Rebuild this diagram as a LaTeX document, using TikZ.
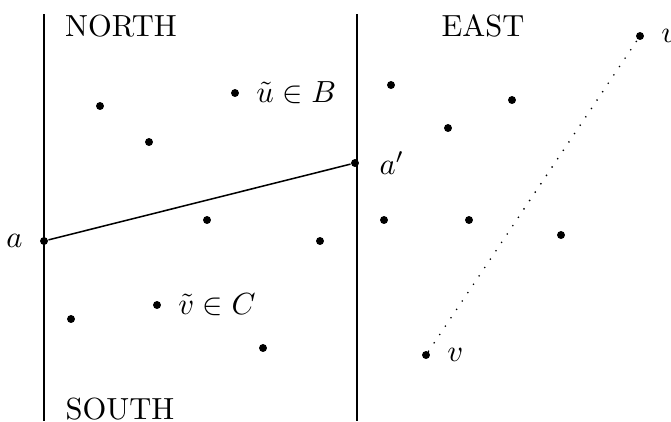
\documentclass[tikz,border=0pt]{standalone}
\usepackage{amsmath,amssymb}
\usetikzlibrary{positioning}
\tikzset{
  pt/.style    ={circle, fill=black, inner sep=0pt, minimum size=2.6pt},
  wall/.style  ={line width=0.8pt},
  region/.style={font=\normalsize},
  cut/.style   ={line width=0.5pt},
  hop/.style   ={line width=0.6pt, line cap=round, dash pattern=on 0pt off 3.3pt},
}
\begin{document}
\begin{tikzpicture}[x=0.0115cm,y=-0.0115cm]
      \useasboundingbox (0,0) rectangle (671,421);
      % the two walls
      \draw[wall] (44,14) -- (44,421);
      \draw[wall] (357,14) -- (357,421);
      \node[region] (north) at (121,26) {NORTH};
      \node[region] (east) at (483,26) {EAST};
      \node[region] (south) at (120,409) {SOUTH};
      % plain points
      \foreach \p in {(100,106),(149,142),(207,220),(320,241),(71,319),(263,348),
                      (391,85),(448,128),(512,100),(384,220),(469,220),(561,235)}
        \node[pt] at \p {};
      % labelled points
      \node[pt] (ut) at (235,93) {};
      \node[right=2pt of ut] (utl) {$\tilde{u}\in B$};
      \node[pt] (vt) at (157,305) {};
      \node[right=2pt of vt] (vtl) {$\tilde{v}\in C$};
      \node[pt] (a) at (44,241) {};
      \node[left=2pt of a] (al) {$a$};
      \node[pt] (ap) at (355,163) {};
      \node[right=3pt of ap] (apl) {$a'$};
      \node[pt] (u) at (640,36) {};
      \node[right=2pt of u] (ul) {$u$};
      \node[pt] (v) at (426,355) {};
      \node[right=2pt of v] (vl) {$v$};
      \draw[cut] (a) -- (ap);
      \draw[hop] (v) -- (u);
    \end{tikzpicture}
\end{document}
